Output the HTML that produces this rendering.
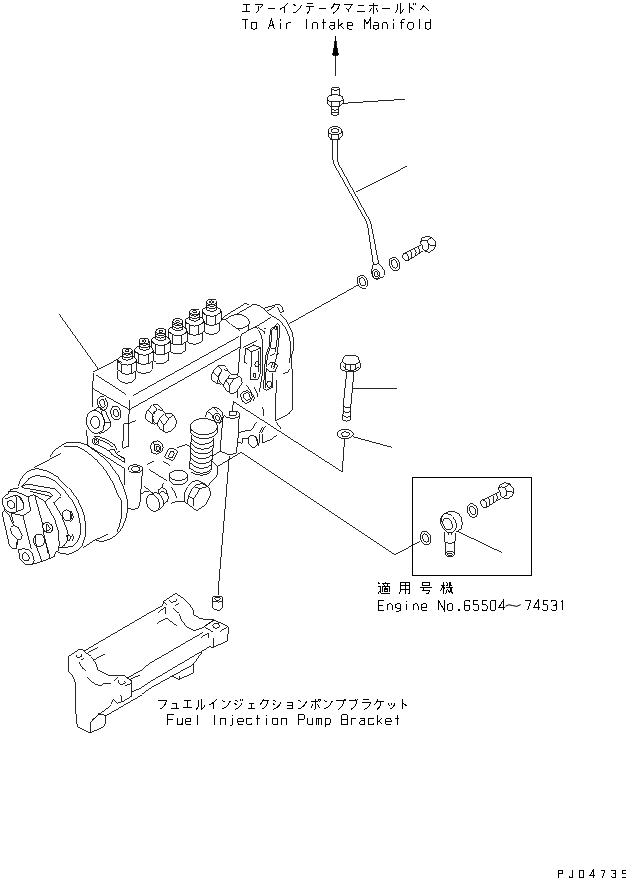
<!DOCTYPE html>
<html><head><meta charset="utf-8"><title>Fuel Injection Pump</title>
<style>
html,body{margin:0;padding:0;background:#fff;font-family:"Liberation Sans",sans-serif;}
svg{display:block}
svg path,svg ellipse,svg circle,svg line,svg polyline,svg rect{fill:none;stroke:#000;stroke-width:0.85;vector-effect:non-scaling-stroke;stroke-linecap:butt;stroke-linejoin:miter}
svg #txt path{stroke-width:1}
svg .b{stroke-width:1}
svg .f{fill:#000}
svg .w{fill:#fff}
</style></head><body>
<svg width="626" height="878" viewBox="0 0 626 878" shape-rendering="crispEdges">
<rect x="0" y="0" width="626" height="878" style="fill:#fff;stroke:none"/>
<g id="txt"><path transform="translate(241.90,3.20) scale(0.95,0.92)" d="M1,1.5H8M4.5,1.5V9.5M0,9.5H9"/>
<path transform="translate(254.65,3.20) scale(0.95,0.92)" d="M0,1H8.8Q8.3,3.5 5.8,5M4.3,3.2V6Q4.3,9 1,11"/>
<path transform="translate(267.40,3.20) scale(0.95,0.92)" d="M.3,5.5H8"/>
<path transform="translate(280.15,3.20) scale(0.95,0.92)" d="M8,0Q5,4.2 0,6.6M5,3.6V11"/>
<path transform="translate(292.90,3.20) scale(0.95,0.92)" d="M.5,1L3,3M.5,10.6Q6,9 9,2.2"/>
<path transform="translate(305.65,3.20) scale(0.95,0.92)" d="M1.5,.6H7.5M0,4H9M4.6,4Q4.6,9 1.5,11"/>
<path transform="translate(318.40,3.20) scale(0.95,0.92)" d="M.3,5.5H8"/>
<path transform="translate(331.15,3.20) scale(0.95,0.92)" d="M3.6,0Q2.6,3.6 0,6M3,1.6H8.6Q8,7.6 2,11"/>
<path transform="translate(343.90,3.20) scale(0.95,0.92)" d="M0,1H9Q7,5 4,7.6M2.4,5L5.6,9.6"/>
<path transform="translate(356.65,3.20) scale(0.95,0.92)" d="M1.5,2H7.5M0,9.5H9"/>
<path transform="translate(369.40,3.20) scale(0.95,0.92)" d="M0,3H9M4.5,0V10Q4.5,11 3.3,11M2,5.6L0,9.6M7,5.6L9,9.6"/>
<path transform="translate(382.15,3.20) scale(0.95,0.92)" d="M.3,5.5H8"/>
<path transform="translate(394.90,3.20) scale(0.95,0.92)" d="M2.5,.6V6Q2.5,9.6 0,11M5.6,0V11Q8,10 9.5,6"/>
<path transform="translate(407.65,3.20) scale(0.95,0.92)" d="M2,0V11M2,4L7,7M6.2,0V2M8.2,0V2"/>
<path transform="translate(420.40,3.20) scale(0.95,0.92)" d="M0,7L3.6,2.6L9.5,9"/>
<path transform="translate(242.30,19.00) scale(1.0,1.0)" d="M0,0H6M3,0V10"/>
<path transform="translate(251.00,19.00) scale(1.0,1.0)" d="M1.8,3.5H4.2Q5.7,3.5 5.7,5V8.5Q5.7,10 4.2,10H1.8Q.3,10 .3,8.5V5Q.3,3.5 1.8,3.5Z"/>
<path transform="translate(268.40,19.00) scale(1.0,1.0)" d="M0,10L3,0L6,10M1.1,6.5H4.9"/>
<path transform="translate(277.10,19.00) scale(1.0,1.0)" d="M3,3.5V10M3,.3V1.5"/>
<path transform="translate(285.80,19.00) scale(1.0,1.0)" d="M.8,3.5V10M.8,5.2Q2,3.5 3.8,3.5H5.5"/>
<path transform="translate(303.20,19.00) scale(1.0,1.0)" d="M3,0V10"/>
<path transform="translate(311.90,19.00) scale(1.0,1.0)" d="M.5,3.5V10M.5,5Q1.3,3.5 2.8,3.5H3.8Q5.5,3.5 5.5,5.2V10"/>
<path transform="translate(320.60,19.00) scale(1.0,1.0)" d="M3,0V10M1,3.5H5"/>
<path transform="translate(329.30,19.00) scale(1.0,1.0)" d="M1,3.5H4Q5.5,3.5 5.5,5V10M5.5,6.3H2Q.4,6.3 .4,8.1Q.4,10 2,10H3.8Q5.5,10 5.5,8.6"/>
<path transform="translate(338.00,19.00) scale(1.0,1.0)" d="M.6,0V10M5.4,3.5L.6,7.6M2.4,6.1L5.6,10"/>
<path transform="translate(346.70,19.00) scale(1.0,1.0)" d="M.4,6.6H5.6V5Q5.6,3.5 4.1,3.5H1.9Q.4,3.5 .4,5V8.5Q.4,10 1.9,10H5.4"/>
<path transform="translate(364.10,19.00) scale(1.0,1.0)" d="M0,10V0L3,5.2L6,0V10"/>
<path transform="translate(372.80,19.00) scale(1.0,1.0)" d="M1,3.5H4Q5.5,3.5 5.5,5V10M5.5,6.3H2Q.4,6.3 .4,8.1Q.4,10 2,10H3.8Q5.5,10 5.5,8.6"/>
<path transform="translate(381.50,19.00) scale(1.0,1.0)" d="M.5,3.5V10M.5,5Q1.3,3.5 2.8,3.5H3.8Q5.5,3.5 5.5,5.2V10"/>
<path transform="translate(390.20,19.00) scale(1.0,1.0)" d="M3,3.5V10M3,.3V1.5"/>
<path transform="translate(398.90,19.00) scale(1.0,1.0)" d="M3,10V1.5Q3,0 4.5,0H5.6M.8,3.5H5.4"/>
<path transform="translate(407.60,19.00) scale(1.0,1.0)" d="M1.8,3.5H4.2Q5.7,3.5 5.7,5V8.5Q5.7,10 4.2,10H1.8Q.3,10 .3,8.5V5Q.3,3.5 1.8,3.5Z"/>
<path transform="translate(416.30,19.00) scale(1.0,1.0)" d="M3,0V10"/>
<path transform="translate(425.00,19.00) scale(1.0,1.0)" d="M5.5,0V10M5.5,5Q5.5,3.5 4,3.5H2Q.4,3.5 .4,5V8.5Q.4,10 2,10H4Q5.5,10 5.5,8.5"/>
<path transform="translate(157.90,699.20) scale(0.95,0.92)" d="M0,1H9Q8.5,7.6 2,11"/>
<path transform="translate(170.65,699.20) scale(0.95,0.92)" d="M1.5,5H6.5V10M.5,10H8.5"/>
<path transform="translate(183.40,699.20) scale(0.95,0.92)" d="M1,1.5H8M4.5,1.5V9.5M0,9.5H9"/>
<path transform="translate(196.15,699.20) scale(0.95,0.92)" d="M2.5,.6V6Q2.5,9.6 0,11M5.6,0V11Q8,10 9.5,6"/>
<path transform="translate(208.90,699.20) scale(0.95,0.92)" d="M8,0Q5,4.2 0,6.6M5,3.6V11"/>
<path transform="translate(221.65,699.20) scale(0.95,0.92)" d="M.5,1L3,3M.5,10.6Q6,9 9,2.2"/>
<path transform="translate(234.40,699.20) scale(0.95,0.92)" d="M1,1L3.5,2.6M0,4.6L2.5,6.1M.5,11Q6,9.6 8.5,3.6M6.6,0V2M8.6,0V2"/>
<path transform="translate(247.15,699.20) scale(0.95,0.92)" d="M1.5,4.6H7.5M4.5,4.6V10M.5,10H8.5"/>
<path transform="translate(259.90,699.20) scale(0.95,0.92)" d="M3.6,0Q2.6,3.6 0,6M3,1.6H8.6Q8,7.6 2,11"/>
<path transform="translate(272.65,699.20) scale(0.95,0.92)" d="M1,1L3.5,2.6M0,4.6L2.5,6.1M.5,11Q6,9.6 9,3"/>
<path transform="translate(285.40,699.20) scale(0.95,0.92)" d="M1.5,4H7V10H1.5M2,7H7"/>
<path transform="translate(298.15,699.20) scale(0.95,0.92)" d="M.5,1L3,3M.5,10.6Q6,9 9,2.2"/>
<path transform="translate(310.90,699.20) scale(0.95,0.92)" d="M0,3H8M4.5,0V10Q4.5,11 3.3,11M2,5.6L0,9.6M7,5.6L9,9.6M8,1A1,1 0 1 0 10,1A1,1 0 1 0 8,1"/>
<path transform="translate(323.65,699.20) scale(0.95,0.92)" d="M.5,1L3,3M.5,10.6Q6,9 9,2.2"/>
<path transform="translate(336.40,699.20) scale(0.95,0.92)" d="M0,1.5H8Q7.6,7.6 2,11M8,1A1,1 0 1 0 10,1A1,1 0 1 0 8,1"/>
<path transform="translate(349.15,699.20) scale(0.95,0.92)" d="M0,1.5H8Q7.6,7.6 2,11M7,-.5V1M9,-.5V1"/>
<path transform="translate(361.90,699.20) scale(0.95,0.92)" d="M1.5,.6H7.5M0,3.6H9Q8.5,8.6 2.5,11"/>
<path transform="translate(374.65,699.20) scale(0.95,0.92)" d="M3,0Q2.5,3.6 0,6M2.5,3H9.5M6.5,3Q6.5,8.6 2.5,11"/>
<path transform="translate(387.40,699.20) scale(0.95,0.92)" d="M1,4.6L2,7M3.9,4L4.9,6.6M8,4Q7.5,8.6 2.5,10.6"/>
<path transform="translate(400.15,699.20) scale(0.95,0.92)" d="M2,0V11M2,4L7.5,7.6"/>
<path transform="translate(167.90,714.60) scale(1.0,1.0)" d="M6,0H0V10M0,4.8H4.6"/>
<path transform="translate(176.60,714.60) scale(1.0,1.0)" d="M.5,3.5V8.5Q.5,10 2,10H3.6Q5.5,10 5.5,8.4M5.5,3.5V10"/>
<path transform="translate(185.30,714.60) scale(1.0,1.0)" d="M.4,6.6H5.6V5Q5.6,3.5 4.1,3.5H1.9Q.4,3.5 .4,5V8.5Q.4,10 1.9,10H5.4"/>
<path transform="translate(194.00,714.60) scale(1.0,1.0)" d="M3,0V10"/>
<path transform="translate(211.40,714.60) scale(1.0,1.0)" d="M3,0V10"/>
<path transform="translate(220.10,714.60) scale(1.0,1.0)" d="M.5,3.5V10M.5,5Q1.3,3.5 2.8,3.5H3.8Q5.5,3.5 5.5,5.2V10"/>
<path transform="translate(228.80,714.60) scale(1.0,1.0)" d="M3.6,3.5V9.2Q3.6,10.6 2.2,10.6H1M3.6,.3V1.5"/>
<path transform="translate(237.50,714.60) scale(1.0,1.0)" d="M.4,6.6H5.6V5Q5.6,3.5 4.1,3.5H1.9Q.4,3.5 .4,5V8.5Q.4,10 1.9,10H5.4"/>
<path transform="translate(246.20,714.60) scale(1.0,1.0)" d="M5.5,4.7Q5.5,3.5 4,3.5H2Q.4,3.5 .4,5V8.5Q.4,10 2,10H4Q5.5,10 5.5,8.9"/>
<path transform="translate(254.90,714.60) scale(1.0,1.0)" d="M3,0V10M1,3.5H5"/>
<path transform="translate(263.60,714.60) scale(1.0,1.0)" d="M3,3.5V10M3,.3V1.5"/>
<path transform="translate(272.30,714.60) scale(1.0,1.0)" d="M1.8,3.5H4.2Q5.7,3.5 5.7,5V8.5Q5.7,10 4.2,10H1.8Q.3,10 .3,8.5V5Q.3,3.5 1.8,3.5Z"/>
<path transform="translate(281.00,714.60) scale(1.0,1.0)" d="M.5,3.5V10M.5,5Q1.3,3.5 2.8,3.5H3.8Q5.5,3.5 5.5,5.2V10"/>
<path transform="translate(298.40,714.60) scale(1.0,1.0)" d="M0,10V0H4Q6,0 6,1.6V3.4Q6,5 4,5H0"/>
<path transform="translate(307.10,714.60) scale(1.0,1.0)" d="M.5,3.5V8.5Q.5,10 2,10H3.6Q5.5,10 5.5,8.4M5.5,3.5V10"/>
<path transform="translate(315.80,714.60) scale(1.0,1.0)" d="M.3,3.5V10M.3,4.6Q.9,3.5 1.8,3.5Q3,3.5 3,5V10M3,4.6Q3.6,3.5 4.5,3.5Q5.7,3.5 5.7,5V10"/>
<path transform="translate(324.50,714.60) scale(1.0,1.0)" d="M.5,3.5V12M.5,5Q.5,3.5 2,3.5H4Q5.6,3.5 5.6,5V8.5Q5.6,10 4,10H2Q.5,10 .5,8.5"/>
<path transform="translate(341.90,714.60) scale(1.0,1.0)" d="M0,0V10H4Q6,10 6,8.4V6.4Q6,4.8 4,4.8H0M4,4.8Q5.6,4.8 5.6,3.3V1.5Q5.6,0 4,0H0"/>
<path transform="translate(350.60,714.60) scale(1.0,1.0)" d="M.8,3.5V10M.8,5.2Q2,3.5 3.8,3.5H5.5"/>
<path transform="translate(359.30,714.60) scale(1.0,1.0)" d="M1,3.5H4Q5.5,3.5 5.5,5V10M5.5,6.3H2Q.4,6.3 .4,8.1Q.4,10 2,10H3.8Q5.5,10 5.5,8.6"/>
<path transform="translate(368.00,714.60) scale(1.0,1.0)" d="M5.5,4.7Q5.5,3.5 4,3.5H2Q.4,3.5 .4,5V8.5Q.4,10 2,10H4Q5.5,10 5.5,8.9"/>
<path transform="translate(376.70,714.60) scale(1.0,1.0)" d="M.6,0V10M5.4,3.5L.6,7.6M2.4,6.1L5.6,10"/>
<path transform="translate(385.40,714.60) scale(1.0,1.0)" d="M.4,6.6H5.6V5Q5.6,3.5 4.1,3.5H1.9Q.4,3.5 .4,5V8.5Q.4,10 1.9,10H5.4"/>
<path transform="translate(394.10,714.60) scale(1.0,1.0)" d="M3,0V10M1,3.5H5"/>
<path transform="translate(378.00,581.60) scale(1.0,1.0)" d="M0,1L2,2.6M0,5H2V9.6Q1,10 0,12M2,10Q3,12 5,12H12M7.6,0V1.6M3.5,1.6H12M5.5,2.6L6.5,4M10,2.6L9,4M4,4.6H11.5V10.2M4,4.6V10.2M7.7,4.6V7M5.5,7H10M6,8.2H9.5V10H6Z"/><path transform="translate(399.00,581.60) scale(1.0,1.0)" d="M1.6,.5H10.5V11Q10.5,12 9,12M1.6,.5V8Q1.6,10.6 0,12M1.6,4H10.5M1.6,7.6H10.5M6,.5V12"/><path transform="translate(419.80,581.60) scale(1.0,1.0)" d="M2.5,.5H9.5V4H2.5ZM0,6H12M4,6L3,8.6H9.5Q9.5,11.6 8,12H6"/><path transform="translate(440.70,581.60) scale(1.0,1.0)" d="M0,3.5H4.5M2.3,0V12M2.3,4L0,9M2.3,4L4.5,7M5.5,.6L7,2.4L5.5,4H7.5M9,.6L10.5,2.4L9,4H11.2M5,6H12M8.6,0Q9,8 12,12M11.2,7L8,12M6.5,7.6L5,12M7,8L8,10"/>
<path transform="translate(378.00,600.40) scale(1.0,1.0)" d="M6,0H0V10H6M0,4.8H4.6"/>
<path transform="translate(386.63,600.40) scale(1.0,1.0)" d="M.5,3.5V10M.5,5Q1.3,3.5 2.8,3.5H3.8Q5.5,3.5 5.5,5.2V10"/>
<path transform="translate(395.26,600.40) scale(1.0,1.0)" d="M5.5,3.5V9.3Q5.5,10.6 4,10.6H1.2M5.5,5Q5.5,3.5 4,3.5H2Q.4,3.5 .4,5V6.2Q.4,7.7 2,7.7H4Q5.5,7.7 5.5,6.2"/>
<path transform="translate(403.89,600.40) scale(1.0,1.0)" d="M3,3.5V10M3,.3V1.5"/>
<path transform="translate(412.52,600.40) scale(1.0,1.0)" d="M.5,3.5V10M.5,5Q1.3,3.5 2.8,3.5H3.8Q5.5,3.5 5.5,5.2V10"/>
<path transform="translate(421.15,600.40) scale(1.0,1.0)" d="M.4,6.6H5.6V5Q5.6,3.5 4.1,3.5H1.9Q.4,3.5 .4,5V8.5Q.4,10 1.9,10H5.4"/>
<path transform="translate(438.41,600.40) scale(1.0,1.0)" d="M0,10V0L6,10V0"/>
<path transform="translate(447.04,600.40) scale(1.0,1.0)" d="M1.8,3.5H4.2Q5.7,3.5 5.7,5V8.5Q5.7,10 4.2,10H1.8Q.3,10 .3,8.5V5Q.3,3.5 1.8,3.5Z"/>
<path transform="translate(455.67,600.40) scale(1.0,1.0)" d="M2.6,9.2H3.6V10H2.6Z"/>
<path transform="translate(464.30,600.40) scale(1.0,1.0)" d="M5.5,1.2Q5.2,0 3.8,0H2Q.4,0 .4,1.8V8.3Q.4,10 2,10H4Q5.6,10 5.6,8.3V6.4Q5.6,4.8 4,4.8H2Q.4,4.8 .4,6.4"/>
<path transform="translate(472.93,600.40) scale(1.0,1.0)" d="M5.4,0H.8V4.4H4Q5.6,4.4 5.6,6V8.3Q5.6,10 4,10H2Q.4,10 .4,8.6"/>
<path transform="translate(481.56,600.40) scale(1.0,1.0)" d="M5.4,0H.8V4.4H4Q5.6,4.4 5.6,6V8.3Q5.6,10 4,10H2Q.4,10 .4,8.6"/>
<path transform="translate(490.19,600.40) scale(1.0,1.0)" d="M2,0H4Q5.6,0 5.6,1.8V8.2Q5.6,10 4,10H2Q.4,10 .4,8.2V1.8Q.4,0 2,0Z"/>
<path transform="translate(498.82,600.40) scale(1.0,1.0)" d="M4.4,10V0L0,7H6"/>
<path transform="translate(505.50,600.40) scale(1.45,1.0)" d="M0,5.8Q2.2,3.2 5,5.2T10.5,4.2"/>
<path transform="translate(525.00,600.40) scale(1.0,1.0)" d="M.3,0H5.7L2.6,10"/>
<path transform="translate(533.63,600.40) scale(1.0,1.0)" d="M4.4,10V0L0,7H6"/>
<path transform="translate(542.26,600.40) scale(1.0,1.0)" d="M5.4,0H.8V4.4H4Q5.6,4.4 5.6,6V8.3Q5.6,10 4,10H2Q.4,10 .4,8.6"/>
<path transform="translate(550.89,600.40) scale(1.0,1.0)" d="M.4,1.5Q.4,0 2,0H4Q5.6,0 5.6,1.5V3.2Q5.6,4.7 4,4.7H2.4M4,4.7Q5.6,4.7 5.6,6.2V8.4Q5.6,10 4,10H2Q.4,10 .4,8.5"/>
<path transform="translate(559.52,600.40) scale(1.0,1.0)" d="M3,0V10M1.6,1.6L3,0"/>
<path transform="translate(558.10,870.00) scale(0.75,0.76)" d="M0,10V0H4Q6,0 6,1.6V3.4Q6,5 4,5H0"/>
<path transform="translate(568.75,870.00) scale(0.75,0.76)" d="M5,0V8.2Q5,10 3.2,10H2.2Q.5,10 .5,8.4"/>
<path transform="translate(579.40,870.00) scale(0.75,0.76)" d="M0,0V10H3.4Q6,10 6,7.4V2.6Q6,0 3.4,0H0Z"/>
<path transform="translate(590.05,870.00) scale(0.75,0.76)" d="M4.4,10V0L0,7H6"/>
<path transform="translate(600.70,870.00) scale(0.75,0.76)" d="M.3,0H5.7L2.6,10"/>
<path transform="translate(611.35,870.00) scale(0.75,0.76)" d="M.4,1.5Q.4,0 2,0H4Q5.6,0 5.6,1.5V3.2Q5.6,4.7 4,4.7H2.4M4,4.7Q5.6,4.7 5.6,6.2V8.4Q5.6,10 4,10H2Q.4,10 .4,8.5"/>
<path transform="translate(622.00,870.00) scale(0.75,0.76)" d="M5.4,0H.8V4.4H4Q5.6,4.4 5.6,6V8.3Q5.6,10 4,10H2Q.4,10 .4,8.6"/></g>
<g id="top">
<!-- arrow -->
<path class="f" d="M335.5,36L334.6,45L332.6,55H338.4L336.4,45Z"/>
<path d="M335.5,38V76"/>
<!-- connector fitting -->
<ellipse cx="335.4" cy="88.6" rx="3.7" ry="1.6"/>
<path d="M331.7,88.6V96M339.1,88.6V96M334.5,90.5L336.5,89.5"/>
<path d="M327.3,98.5Q327.3,94.8 335.2,94.8Q343,94.8 343,98.5Q343,102 335.2,102Q327.3,102 327.3,98.5Z"/>
<path d="M327.3,98.5V103.5Q330,107 335,107Q340.5,107 343,103.5V98.5M331.2,101.6V106.4M339.6,101.6V106.2"/>
<path d="M331.7,106.5V114.5Q335,117 338.4,114.5V106.5M331.7,109.3Q335,111.5 338.4,109.3M331.7,112Q335,114.2 338.4,112"/>
<path d="M343,103.3L404.8,99.3"/>
<!-- nut on tube -->
<path d="M328.2,131Q328.2,127 335,126.6Q342,127 342,131Q342,134.5 335,134.8Q328.2,134.5 328.2,131Z"/>
<ellipse cx="335" cy="130.6" rx="3.8" ry="2"/>
<path d="M328.2,131V136L331,139.6H339L342,136V131M331.4,134V139.4M338.6,134V139.4"/>
<path d="M332.6,139.6V143M337.3,139.6V143"/>
<!-- tube -->
<path d="M332.6,143V158Q332.8,162 335,166L366.3,221.5Q367.3,224 367.8,227L373.3,263.9"/>
<path d="M337,143V157Q337.2,160.8 338.8,164.4L369.4,220Q370.8,222.5 371.4,226L378.8,263.9"/>
<path d="M355.6,192.3L406.8,166.3"/>
<!-- banjo eye -->
<path d="M373.3,263.9L371.3,271.4L372.7,276.8L376.7,279.5L381.5,277.5L384.2,275.4L384.6,271.4L382.2,267.3L378.8,263.9M373.4,264.4L378.6,263.8"/>
<ellipse cx="376" cy="274.1" rx="3.7" ry="4.8" transform="rotate(-20 376 274.1)"/>
<ellipse cx="376" cy="274.3" rx="1.9" ry="2.7" transform="rotate(-20 376 274.3)"/>
<!-- washer 1 -->
<ellipse cx="362.5" cy="281.9" rx="4.9" ry="7" transform="rotate(-20 362.5 281.9)"/>
<ellipse cx="362.5" cy="281.9" rx="2.7" ry="4.4" transform="rotate(-20 362.5 281.9)"/>
<path d="M358,285L289,323.8"/>
<!-- washer 2 -->
<ellipse cx="394.6" cy="263.9" rx="5" ry="7.2" transform="rotate(-20 394.6 263.9)"/>
<ellipse cx="394.6" cy="263.9" rx="2.8" ry="4.5" transform="rotate(-20 394.6 263.9)"/>
<!-- bolt -->
<ellipse cx="405.9" cy="257.1" rx="2.6" ry="4.1" transform="rotate(-25 405.9 257.1)"/>
<path d="M404.6,253.2L420.9,244.9M407.6,260.8L422.9,251"/>
<path d="M410.6,251Q412.8,254 411.4,258.4M414.8,249Q417,252 415.6,256M418.2,247Q420.4,250 419,253.6"/>
<path d="M420.2,242.2L422.2,238.1L427,236.1L431.7,237.4L435.1,241.5L435.8,245.6L433.8,249.7L429,252.4L424.9,251L422.9,249"/>
<path d="M420.2,242.2L422.9,240.2L427,240.8L429,244.9L428.3,249L424.9,251M427,240.8L431.7,237.4M429,244.9L435.8,245.6"/>
<path d="M420.2,242.2Q422.4,244.6 422.9,249"/>
</g>

<g id="right">
<!-- long flange bolt -->
<path d="M342.8,361.6V359.8Q343.4,356.4 346.2,355.3H355.3Q358.6,356.6 359.3,360.4V362"/>
<path d="M342.8,361.6Q344,364.6 350.8,365Q357.6,364.6 359.3,362"/>
<path d="M345.6,364V369.6M350.8,365V370.4M355.9,364V369.6M343.4,366.8Q346,370.6 350.8,370.6Q356,370.6 358.6,367"/>
<path d="M342.6,360.8Q340.3,362.6 340.3,366.4Q340.3,371.8 350.4,371.8Q360.4,371.8 360.4,366.4Q360.4,363 359.4,361.4"/>
<path d="M346.8,371.8L343.3,404.2L342.8,420.2Q346.6,422.6 350.5,419.8L350.8,406.5L353.9,371.8"/>
<path d="M343.3,405Q346.6,409.6 350.8,406.6M343,411Q346.6,414.2 350.7,411.6M342.9,415.6Q346.6,418.8 350.6,416.2"/>
<path d="M352.6,388.8L396.8,388.3"/>
<!-- washer -->
<ellipse cx="345.2" cy="434" rx="8" ry="4.8"/>
<ellipse cx="345.4" cy="434.2" rx="4" ry="2.4"/>
<path d="M353.2,436.8L391.6,447.3"/>
<path d="M344.6,439L342.2,471.8L233.3,401.5"/>
<!-- line 2 -->
<path d="M217.4,466.5L241.2,452.3L395,554.8L420.4,541"/>
<!-- left leader to pump -->
<path d="M59,314L97.9,368.5"/>
<!-- vertical leader to plug -->
<path d="M229.4,455.8L218.6,585.5L217.9,595"/>
<!-- leader from governor -->

<!-- box -->
<path class="b" d="M412.5,477.5H531.5V575.5H412.5Z"/>
<!-- washer A -->
<ellipse cx="425.6" cy="538" rx="5.2" ry="7" transform="rotate(-18 425.6 538)"/>
<ellipse cx="425.6" cy="538" rx="2.8" ry="4.4" transform="rotate(-18 425.6 538)"/>
<!-- banjo -->
<path d="M441,522Q441,515 447,512.2Q450.5,510.8 454,511.6Q459.5,513 461.6,518.5Q463.4,524 461.2,528.6L456.4,532"/>
<ellipse cx="448.4" cy="523.2" rx="7.2" ry="10.2" transform="rotate(-28 448.4 523.2)"/>
<ellipse cx="447.6" cy="524" rx="4.3" ry="6.4" transform="rotate(-28 447.6 524)"/>
<path d="M444,531.5V540L445.6,542.4V554M455.6,532.5V540L454.6,542.4V554M445.6,542.4Q450,544.6 454.6,542.4"/>
<ellipse cx="450" cy="554" rx="4.5" ry="2.4"/>
<ellipse cx="450" cy="554.4" rx="2.6" ry="1.3"/>
<path d="M448,532.5V535M451.5,532.5V535"/>
<path d="M456.8,531L502,552.6"/>
<!-- washer B -->
<ellipse cx="472.6" cy="510.6" rx="5" ry="7" transform="rotate(-20 472.6 510.6)"/>
<ellipse cx="472.6" cy="510.6" rx="2.7" ry="4.4" transform="rotate(-20 472.6 510.6)"/>
<!-- bolt B -->
<g transform="translate(77.9,246.6)">
<ellipse cx="405.9" cy="257.1" rx="2.6" ry="4.1" transform="rotate(-25 405.9 257.1)"/>
<path d="M404.6,253.2L420.9,244.9M407.6,260.8L422.9,251"/>
<path d="M410.6,251Q412.8,254 411.4,258.4M414.8,249Q417,252 415.6,256M418.2,247Q420.4,250 419,253.6"/>
<path d="M420.2,242.2L422.2,238.1L427,236.1L431.7,237.4L435.1,241.5L435.8,245.6L433.8,249.7L429,252.4L424.9,251L422.9,249"/>
<path d="M420.2,242.2L422.9,240.2L427,240.8L429,244.9L428.3,249L424.9,251M427,240.8L431.7,237.4M429,244.9L435.8,245.6"/>
<path d="M420.2,242.2Q422.4,244.6 422.9,249"/>
</g>
</g>

<g id="body">
<!-- top face -->
<path d="M93.2,372L118,359.2"/>
<path d="M96.3,374.9L125.5,394.3"/>
<path d="M133,395.6L238.5,336.8"/>
<path d="M129.6,409.6L239.8,347.2"/>
<!-- left face -->
<path d="M93.6,372.5L92.2,390L92,407"/>
<path d="M92.8,388.6L129,409.4"/>
<path d="M129.4,399.5L128.7,424V446.2L122.6,448.4L124,423.8L129.4,423.4L135.6,420.6"/>
<!-- ports -->
<ellipse cx="102.4" cy="403.3" rx="4.8" ry="7" transform="rotate(-15 102.4 403.3)"/>
<ellipse cx="102.4" cy="403.4" rx="2.6" ry="4" transform="rotate(-15 102.4 403.4)"/>
<ellipse cx="115.8" cy="412.9" rx="5" ry="7" transform="rotate(-15 115.8 412.9)"/>
<ellipse cx="115.8" cy="413" rx="2.7" ry="4" transform="rotate(-15 115.8 413)"/>
<!-- big nut on left -->
<ellipse cx="95.4" cy="421.8" rx="9" ry="11.6" transform="rotate(-12 95.4 421.8)"/>
<ellipse cx="95.3" cy="422.4" rx="4.5" ry="6.2" transform="rotate(-12 95.3 422.4)"/>
<path d="M92.8,410.6L99.2,407L105.6,411.6L110.7,422.5L110,427L104.3,432L99.2,433.4"/>
<path d="M101,411L104.8,421.8L103.6,427M104.8,422.2L110.7,422.5"/>

<!-- lever -->
<ellipse cx="95.6" cy="441.2" rx="3.3" ry="3.5"/>
<ellipse cx="95.6" cy="441.3" rx="1.6" ry="1.8"/>
<path d="M94,436.7H99L107,440L114.7,445L117,449.5"/>
<path d="M98.9,439.5L107,442.8L113,447.3"/>
<path d="M97.4,444.5L108.6,450.7"/>
<path d="M108.6,450.7L112,449L114.7,450L116.4,453.5L124.8,459.6V462.4L114.7,456.3L112,454.6Z"/>
<path d="M117,452.8L120.3,450.7M118,455.2L125.4,458.6"/>
<path d="M86.8,430L87.3,445"/>
</g>

<g id="front">
<!-- hex plug (left on front face) -->
<path d="M145.1,415.6L147.5,410.3L152.7,404.6L156.6,404.1L162.8,409.4"/>
<path d="M145.1,415.6L146,419.4L151.3,423.3L155.1,424.2"/>
<path d="M147.5,410.3L153.2,415.6L152.2,423M152.7,404.6L157,409.4L153.7,414.2"/>
<path d="M154.2,411.3Q152,414 152.7,417Q153,421 154.7,423.3L158,423.8"/>
<path d="M158,409.4L162.8,410.8L165.2,412.7"/>
<path d="M157,423.8L159.4,419L164.7,413.7L169.5,413.2L174.8,417L176.7,421.8L174.8,427.1L170.5,431.4L165.7,432.4L159.9,429Z"/>
<path d="M159.4,419L163.8,425.2V431.4M163.8,425.2L168.1,418.5L164.7,413.7M168.1,418.5L173,415.6"/>
<!-- small nut -->
<path d="M150,446L152.8,442L157.4,440.8L161.8,443.2L163.2,447.6L161.4,452L156.8,454.3L152,452.6Z"/>
<ellipse cx="157.6" cy="448" rx="3.2" ry="4" transform="rotate(-20 157.6 448)"/>
<ellipse cx="158" cy="448.2" rx="1.6" ry="2.2" transform="rotate(-20 158 448.2)"/>
<path d="M152.8,442L155,445.6L154.4,450.6"/>
<!-- small rounded rect with ellipse -->
<path d="M165,455.6L168.2,449.4Q169.4,447.6 171.4,448L176.4,450Q177.8,451 177,452.8L174.2,459Q173.2,460.6 171.2,460L166,458Q164.4,457.2 165,455.6Z"/>
<ellipse cx="171.4" cy="454.6" rx="2.4" ry="3.6" transform="rotate(25 171.4 454.6)"/>
<path d="M176.7,448L185.5,444.7L191,448"/>
<!-- short lines -->
<path d="M147.2,464.7L154.4,460.7M163.2,461.5L170.4,465.5M148.8,469.5L166.6,480.4"/>
<!-- spring cap -->
<ellipse class="w" cx="203.8" cy="426.6" rx="13.7" ry="8.1"/>
<path d="M190.1,426.8V431.6Q193,437.8 203.8,438.8Q214.6,438 217.5,432V426.8"/>
<path d="M191.4,434.6L189.6,468.6M213.8,437.6L211.2,470.4"/>
<path d="M191.2,438.4Q196,444.6 203,444.4Q210,444 213.4,440M190.9,443.2Q196,449.4 203,449.2Q210,448.8 213.2,444.8M190.6,448Q196,454.2 203,454Q210,453.6 212.8,449.6M190.4,452.8Q196,459 203,458.8Q209.6,458.4 212.4,454.4M190.1,457.6Q195.6,463.8 202.6,463.6Q209.4,463.2 212.1,459.2M189.8,462.4Q195.4,468.6 202.4,468.4Q209,468 211.8,464M189.6,467.2Q195,473.4 202,473.2Q208.8,472.8 211.4,468.8M190.6,471.6Q195,475.6 201.4,475.4Q207.4,475 210.6,471.6"/>
<!-- round plug below -->
<ellipse cx="178.4" cy="475.4" rx="9.2" ry="5"/>
<path d="M169.2,475.4V480.2Q172,485 178.4,485Q185,485 187.6,480.2V475.4"/>
<!-- nut top-right of spring -->
<path d="M205.2,416.8L207.4,411.2L213.6,407.3L218.6,408.4L222,412.3L223.1,416.8L222.5,421.3L218.6,424"/>
<ellipse cx="217.4" cy="417.8" rx="3.8" ry="4.9" transform="rotate(-15 217.4 417.8)"/>
<ellipse cx="217.6" cy="418" rx="1.9" ry="2.7" transform="rotate(-15 217.6 418)"/>
<path d="M207.4,411.2L212.4,415.1L213.2,418.6M213.6,407.3L217.4,411.6"/>
<path d="M223.1,415.7L220.3,448.1L220.8,451.3"/>
<!-- pin boss right -->
<path d="M229.2,411.4H236.2V415.2H229.2Z"/>
<path d="M233.3,401.5L232,411"/>
<path d="M237.4,411.6L239.2,412.8L238.6,432.5L237.4,442L236.6,452.6"/>
<path d="M211.9,455.9L220.8,451.3L229.4,454.9L236.4,453M212.3,460.9L217.4,466.5"/>
<path d="M217.5,466.3V474.8L207.9,485.8"/>
<!-- boss cylinder lower-left -->
<ellipse cx="135.4" cy="468.9" rx="7.2" ry="4.1"/>
<ellipse cx="135.6" cy="469" rx="4.3" ry="2.3"/>
<path d="M142.6,468.5L141.6,480L140.7,494.3L139.7,504.9L137.8,508.2L133,509.7L127.7,508.2"/>

<!-- bolt lower-left -->
<ellipse cx="153" cy="502.9" rx="6.2" ry="8.8" transform="rotate(-22 153 502.9)"/>
<path d="M150.6,494.6L155.8,492.4Q160.6,494 163,500L163.4,506L158.6,510.4"/>
<path d="M158.4,490L162.3,487.1L166.6,490.5L168.5,497.2L167.5,501L162.7,504.4"/>
<path d="M158.4,490L159,493.4L162.4,491.4L166.6,493.6M163.2,483.3L162.3,487.1"/>
<path d="M144,486.2L153.1,493.4M140.7,494.3L145.5,491.4L149.3,491"/>
<path d="M170.9,503.2L178.7,501L184.3,502.1M170.9,487Q175.3,491 176.5,497.6"/>
<!-- big bolt head -->
<path d="M184.4,501.6V493L187.7,486.8L193,481.5L197.3,480.5L203.1,482.9L208.4,486.8L210.7,492.5L209.3,497.8L206,504L203.1,506.4L196.8,510.7L192,507.4L187.3,503.6Z"/>
<path d="M187.3,503.1L188.7,495.9L192,488.7L195.4,485.3L201.6,483.4L206.9,485.8"/>
<path d="M194.9,486.8L200.2,488.7L207.9,486.3M200.2,488.7L193.5,498.8L189.2,496.8M193.5,498.8V505.5"/>
</g>

<g id="gov">
<!-- governor housing top outline -->
<path d="M220.6,319.3L230.9,312.3L245.6,303.3L248.8,304.6"/>
<path d="M236.6,314.2L253.2,304.6L258.3,305.2L264,309L271,315.4L276.2,318L280,321L284,325.7L287,331L289,336L291,346L290.3,355L289.6,362.7"/>
<path d="M264,308.4L276.2,304.6H280L282.6,307.8L283.3,311.6L280.7,312.9L277.5,307M267.2,311L275,306.5"/>
<path d="M280.7,313.5L284.5,318L287.7,322.5L290.4,327.5L292.2,332L294,342.3L293.5,350L291.6,355V366.6L292.8,372.8V408.6L289,413.7L282.6,417.5L275.6,420.4"/>
<!-- fill cap -->
<path d="M225.8,319.3Q230,315.6 236.6,314.2Q243.4,314 247.5,318.6Q249.6,321 249.4,323.6Q248,326.6 242.4,328.2H236.6Q230.4,325 225.8,319.3Z"/>
<path d="M236.6,328.2L240.4,331.4M248.8,324.6V330M220.6,319.3H225.8"/>
<!-- front-face top edge -->
<path d="M241,334.6L254.5,327L271,316.7"/>
<path d="M254.5,326.3Q258.6,329.6 259.8,332.6Q261.8,336.4 262.4,340.5L262.8,348.7L262.2,375L259.3,392"/>
<path d="M258.3,327.6L264,331.4L264.8,333.6M264,329L266,328.2"/>
<!-- left vertical edge -->
<path d="M241.1,334.6L239.2,360L237.9,374.6M237.7,390.5L237,398"/>
<!-- box bracket -->
<path d="M243,347.4L257,340.4M245.6,348L251.4,351.8L260.9,348L252.6,344.4"/>
<path d="M245.6,348L244.3,362.7L246.8,363.3M251.4,351.8L250.7,379.8L258.3,379L260.3,372.8L260.9,348M258.4,351.4L258.2,372"/>
<ellipse cx="257" cy="364.3" rx="2.2" ry="2.8"/>
<ellipse cx="254.5" cy="375.3" rx="1.4" ry="1.8"/>
<!-- long lever -->
<path d="M270.5,328.9L276.9,323L279.4,325L279.4,334.6L276.9,356.3L273.7,366.6"/>
<path d="M270.5,328.9L269.2,346L266,355L264.7,366.6L263.5,389.4L266,390.7L272.4,387.5L273,372.8"/>
<path d="M271.8,330.2L276.2,325.8L278,327L277.6,335.6L275.4,352M266.2,367.6L265.4,388.4"/>
<ellipse cx="275.6" cy="328.2" rx="1.3" ry="1.6"/>
<path d="M271.8,330.2L270.7,346.4L267.5,355.4L266.2,366.6"/>
<path d="M244.8,349.4L254.2,345"/>
<path d="M270.5,348.8L276.2,347.4M269.8,355.8L275,353.8M276.2,354.4L279.4,353.5"/>
<ellipse cx="269.3" cy="384.3" rx="2.6" ry="3.2"/>
<!-- knob -->
<path d="M267.9,365.2L270.2,362.4L275,362.6L277.5,365.8L275,371.5L269.2,371.5L267.2,369"/>
<path d="M272.8,363.4L270.8,368.4M275.4,364.4L273.4,369.4"/>
<!-- right lower -->
<path d="M282.6,374L287.7,372L289.6,369"/>
<path d="M276.2,379.8L275.6,421.3"/>
<!-- plug hex on front (right) -->
<path d="M211,377L212.9,371.8L217.7,366L222.5,365L226.4,367.5L229.2,371.3"/>
<path d="M211,377L212,380.4L216.8,383.3L220.6,384.2"/>
<path d="M212.9,371.8L218.2,377.5L217.2,383M217.7,366L222,370.3L219.2,375.6"/>
<path d="M220.6,371.8Q218.4,374.4 218.7,377Q218.8,380.4 219.7,382.3L223.5,384.7"/>
<path d="M223.5,369.8L228.8,371.8L230.7,373.7"/>
<path d="M223,385.7L225.9,380L230.7,374.6H236.4L241.2,378L242.2,382.8L238.8,388L236.4,391.9L231.6,393.8L226.8,391Z"/>
<path d="M225.9,380L229.7,385.7V392M229.7,385.7L233.6,379L227.8,378M233.6,379L238.4,376.6"/>
<!-- nut w/ ellipse -->
<path d="M240.3,395.3L243.1,391.9L247,390.5L250.8,392.9L252.3,397.2L250.8,401L246,403.4L242.2,401Z"/>
<path d="M243.1,394.3L247,392.4L249.8,395.3L250.3,399.1L247,400.5L244.1,398.1Z"/>
<path d="M246,385.2L250.8,390.5L254.7,397.2L253.7,400.5M254.2,387.1L257.5,394.3L258,397.2"/>
<path d="M262.8,406.6L263.5,415.6"/>
<!-- lines from pin -->

<!-- bottom region -->
<path d="M238.6,432.5L249.5,430Q254,427 256.5,422.3"/>
<path d="M223.6,415.4Q230,420.4 238.7,416.8"/>
<ellipse cx="252.7" cy="441.4" rx="4.4" ry="6.4" transform="rotate(-20 252.7 441.4)"/>
<path d="M255.6,436Q258.6,439 258.2,445.6"/>
<path d="M242.4,438.9L248.2,438.3M242.4,438.9V443.4M238,442L242.4,443.4"/>
<path d="M259,434.4V442.7M262.3,434.4V442.7M261.6,443.3L271.2,439.5L277,435"/>
<path d="M259.7,432.5L263,426.7M261,433.2L265.4,426.2M276.3,422.3L280.8,428.6"/>
</g>

<g id="timer">
<!-- back flange arcs -->
<path d="M63,444.2Q67,442.4 71,442.2L79,442.3L86.8,445L98,452.9L108,461.8L118,475.3L123.7,487.6L127.4,500L127.6,508L126.6,516L122.7,527.2L116.3,535.1L109.9,539.1L101.9,541.5L95.5,540.7"/>
<path d="M64,446.2L77.8,446.7L86.8,451.8L96.8,460.2L105.8,470.8L113.6,484.2L118,495.4L121,500L122,508L121.9,514.4L119.5,525.6L117,532"/>
<!-- step & top silhouette -->
<path d="M63.5,444.2L54.3,450.4L50,456.6M60.6,453.6L49.4,459.6L34,467.8"/>
<!-- bottom silhouette -->
<path d="M107.5,534.3L93.9,540.7L82.7,547.9"/>
<!-- front ring outer -->
<path d="M18.5,486.2L20.1,480.6L23.4,475.6L27,472.2L32,469.6L37.6,468.6L48,471.3L58.7,477.5L69.2,488L77.9,500L83.5,512.8L85.9,525.6L85.1,536.7L81.9,546.3L76.3,551.1L68.3,554.3L61.2,553.5L56.4,551.1"/>
<!-- front ring inner -->
<path d="M21.8,486.7L26.8,481.7L29,478.4L33,476.4L38,475.6L47,477.2L56,481.7L65.7,491.5L72.3,500L77.9,512.8L80.3,524V533.5L77.1,541.5L71.5,546.3L64.3,547.9L58.8,547.1"/>
<!-- slot -->
<path d="M21.8,486.7L26.8,484L55.4,489L61,495.7L53.5,502.4"/>
<path d="M22.4,487.8L49.2,492.3L52.6,495.7L44.7,501.8"/>
<path d="M29.6,491.2L50.6,496.4M33.6,494.6L44.7,501.2"/>
<!-- middle arc & hub arc -->
<path d="M44.7,501.8L49.2,509.7L54.8,519.7L58.2,531L59.3,545L58,551"/>
<path d="M53.5,502.4L57,508L62.6,517.5L66.3,527L68,533.5L67.6,540.3L64.6,545L59.6,548.4"/>
<!-- top-left boss -->
<path d="M2.2,498.5L6.7,494.6L10,489.5L18.5,487.9"/>
<path d="M7.8,491.8H16.8L28,496.8L33.6,494.6"/>
<path d="M2.2,498.5V503L5,509.7L2.2,512.5"/>
<path d="M5,499L15.7,495.1L20.6,497.4L24,504L22.9,509L16.2,512L11.2,513L5,509.7"/>
<path d="M7.3,501.8L10.6,500.2L14,503L14.5,507.4L11.2,509L7.8,506.3Z"/>
<path d="M15.7,495.1L16.8,500.7L16.2,512M18.5,495.8L24,504"/>
<path d="M28,496.8L30.8,510.8L22.9,515.8L11.2,513"/>
<path d="M22.9,515.8L29.6,542L31.2,548.6"/>
<path d="M34.7,495L42.5,524L43.6,533L48,552.6"/>
<!-- left jaw -->
<path d="M2.2,512.5L9.5,545L11.6,548L16,548.6L17.2,541"/>
<path d="M5,511.4L8.4,513.6L13.4,525.3L10.6,527.6L11.2,533L16.8,539.3H20.7L22.4,535.4L18.5,528L13.4,525.3"/>
<path d="M11.2,514.2L13.4,523M17.3,539.8V545"/>
<!-- lower boss -->
<path d="M18.4,549.9L20,558.7L25.6,565L32,564.3L34.3,561L32,553L28.8,549.9L23,548.6Z"/>
<ellipse cx="25.6" cy="557" rx="3.2" ry="4.4" transform="rotate(-25 25.6 557)"/>
<path d="M32,564.3L42,561.5L54,556.7L56.4,551.1M46,543.1L50,557.5M36.4,546.3L42,561.5"/>
<!-- bolts on ring -->
<ellipse cx="39" cy="540.4" rx="5.6" ry="6.2"/>
<path d="M36,535.4Q33.6,540 36.6,545.6"/>
<ellipse cx="47.6" cy="527.6" rx="4.6" ry="5.6" transform="rotate(-30 47.6 527.6)"/>
<path d="M47,524L50.6,528.6L46.6,531.6ZM51.6,524.4Q53.6,527.6 52.4,531.4"/>
<ellipse cx="67" cy="515.4" rx="4.4" ry="5.6" transform="rotate(-20 67 515.4)"/>
<path d="M70.4,510.6Q73.6,513 73.4,517.4Q72.8,520.6 70.4,521.4M70.4,510.8V520"/>
<path d="M66.6,535.4L71.4,536.4L68.6,541.4ZM72.6,534Q74,537.6 72.4,541"/>
<!-- flange lower-left arcs near pump -->
<path d="M87.3,445L124.8,468.6V485"/>
</g>

<g id="valves">
<g transform="translate(211.6,301.9)"><path class="w" style="stroke:none" d="M-5,0V5L-9.6,9V28Q0,36 9.4,28V9L5,5V0Q0,-4 -5,0Z"/><ellipse cx="0" cy="0" rx="5" ry="2.7"/><ellipse cx="0" cy="0.1" rx="2" ry="1.1"/><path d="M-5,0V8M5,0V8"/><path d="M-5,2.6Q0,6.4 5,2.6M-5,5Q0,8.8 5,5M-5,7.6Q0,11.4 5,7.6"/><path d="M-5,5.2Q-9.6,6.6 -9.6,9.6Q-9.6,11.4 -6.5,12.6M5,5.2Q9.4,6.6 9.4,9.6Q9.4,11.2 7,12.4"/><path d="M-9.6,9.6Q-5,14.6 0,14.4Q6,14.2 9.4,9.6"/><path d="M-9.6,9.6V19.6M9.4,9.6V19.6M-5.2,13.2V22.4M4,13.6V22.6M-9.6,19.6Q-5,24 0,23.6Q6,23.4 9.4,19.6"/><path d="M-9.4,20V28.4Q-5,33 0,32.6Q5,32.4 8,28.6V21"/></g>
<g transform="translate(194.7,311.7)"><path class="w" style="stroke:none" d="M-5,0V5L-9.6,9V28Q0,36 9.4,28V9L5,5V0Q0,-4 -5,0Z"/><ellipse cx="0" cy="0" rx="5" ry="2.7"/><ellipse cx="0" cy="0.1" rx="2" ry="1.1"/><path d="M-5,0V8M5,0V8"/><path d="M-5,2.6Q0,6.4 5,2.6M-5,5Q0,8.8 5,5M-5,7.6Q0,11.4 5,7.6"/><path d="M-5,5.2Q-9.6,6.6 -9.6,9.6Q-9.6,11.4 -6.5,12.6M5,5.2Q9.4,6.6 9.4,9.6Q9.4,11.2 7,12.4"/><path d="M-9.6,9.6Q-5,14.6 0,14.4Q6,14.2 9.4,9.6"/><path d="M-9.6,9.6V19.6M9.4,9.6V19.6M-5.2,13.2V22.4M4,13.6V22.6M-9.6,19.6Q-5,24 0,23.6Q6,23.4 9.4,19.6"/><path d="M-9.4,20V28.4Q-5,33 0,32.6Q5,32.4 8,28.6V21"/></g>
<g transform="translate(177.8,321.4)"><path class="w" style="stroke:none" d="M-5,0V5L-9.6,9V28Q0,36 9.4,28V9L5,5V0Q0,-4 -5,0Z"/><ellipse cx="0" cy="0" rx="5" ry="2.7"/><ellipse cx="0" cy="0.1" rx="2" ry="1.1"/><path d="M-5,0V8M5,0V8"/><path d="M-5,2.6Q0,6.4 5,2.6M-5,5Q0,8.8 5,5M-5,7.6Q0,11.4 5,7.6"/><path d="M-5,5.2Q-9.6,6.6 -9.6,9.6Q-9.6,11.4 -6.5,12.6M5,5.2Q9.4,6.6 9.4,9.6Q9.4,11.2 7,12.4"/><path d="M-9.6,9.6Q-5,14.6 0,14.4Q6,14.2 9.4,9.6"/><path d="M-9.6,9.6V19.6M9.4,9.6V19.6M-5.2,13.2V22.4M4,13.6V22.6M-9.6,19.6Q-5,24 0,23.6Q6,23.4 9.4,19.6"/><path d="M-9.4,20V28.4Q-5,33 0,32.6Q5,32.4 8,28.6V21"/></g>
<g transform="translate(160.9,331.2)"><path class="w" style="stroke:none" d="M-5,0V5L-9.6,9V28Q0,36 9.4,28V9L5,5V0Q0,-4 -5,0Z"/><ellipse cx="0" cy="0" rx="5" ry="2.7"/><ellipse cx="0" cy="0.1" rx="2" ry="1.1"/><path d="M-5,0V8M5,0V8"/><path d="M-5,2.6Q0,6.4 5,2.6M-5,5Q0,8.8 5,5M-5,7.6Q0,11.4 5,7.6"/><path d="M-5,5.2Q-9.6,6.6 -9.6,9.6Q-9.6,11.4 -6.5,12.6M5,5.2Q9.4,6.6 9.4,9.6Q9.4,11.2 7,12.4"/><path d="M-9.6,9.6Q-5,14.6 0,14.4Q6,14.2 9.4,9.6"/><path d="M-9.6,9.6V19.6M9.4,9.6V19.6M-5.2,13.2V22.4M4,13.6V22.6M-9.6,19.6Q-5,24 0,23.6Q6,23.4 9.4,19.6"/><path d="M-9.4,20V28.4Q-5,33 0,32.6Q5,32.4 8,28.6V21"/></g>
<g transform="translate(144.0,340.9)"><path class="w" style="stroke:none" d="M-5,0V5L-9.6,9V28Q0,36 9.4,28V9L5,5V0Q0,-4 -5,0Z"/><ellipse cx="0" cy="0" rx="5" ry="2.7"/><ellipse cx="0" cy="0.1" rx="2" ry="1.1"/><path d="M-5,0V8M5,0V8"/><path d="M-5,2.6Q0,6.4 5,2.6M-5,5Q0,8.8 5,5M-5,7.6Q0,11.4 5,7.6"/><path d="M-5,5.2Q-9.6,6.6 -9.6,9.6Q-9.6,11.4 -6.5,12.6M5,5.2Q9.4,6.6 9.4,9.6Q9.4,11.2 7,12.4"/><path d="M-9.6,9.6Q-5,14.6 0,14.4Q6,14.2 9.4,9.6"/><path d="M-9.6,9.6V19.6M9.4,9.6V19.6M-5.2,13.2V22.4M4,13.6V22.6M-9.6,19.6Q-5,24 0,23.6Q6,23.4 9.4,19.6"/><path d="M-9.4,20V28.4Q-5,33 0,32.6Q5,32.4 8,28.6V21"/></g>
<g transform="translate(127.1,350.7)"><path class="w" style="stroke:none" d="M-5,0V5L-9.6,9V28Q0,36 9.4,28V9L5,5V0Q0,-4 -5,0Z"/><ellipse cx="0" cy="0" rx="5" ry="2.7"/><ellipse cx="0" cy="0.1" rx="2" ry="1.1"/><path d="M-5,0V8M5,0V8"/><path d="M-5,2.6Q0,6.4 5,2.6M-5,5Q0,8.8 5,5M-5,7.6Q0,11.4 5,7.6"/><path d="M-5,5.2Q-9.6,6.6 -9.6,9.6Q-9.6,11.4 -6.5,12.6M5,5.2Q9.4,6.6 9.4,9.6Q9.4,11.2 7,12.4"/><path d="M-9.6,9.6Q-5,14.6 0,14.4Q6,14.2 9.4,9.6"/><path d="M-9.6,9.6V19.6M9.4,9.6V19.6M-5.2,13.2V22.4M4,13.6V22.6M-9.6,19.6Q-5,24 0,23.6Q6,23.4 9.4,19.6"/><path d="M-9.4,20V28.4Q-5,33 0,32.6Q5,32.4 8,28.6V21"/></g>
</g>
<g id="bracket">
<!-- small plug -->
<ellipse cx="217.5" cy="599" rx="5.5" ry="3"/>
<path d="M214.6,598.2L216.6,597.2H219.4L220.6,598.4L219.4,600.4H216L214.6,598.2"/>
<path d="M212,599.4L212.4,607Q214,610.6 217.6,610.6Q221.4,610.6 222.6,607L223,599.4"/>
<!-- back-right pad -->
<path d="M163.4,601.6L175.6,593.3L185.1,599.7L192.8,608.6L194.1,615L201.1,618.9L213.9,619.5"/>
<path d="M163.4,601.6L167.3,604.8M169.2,599.7L171.1,602.3L175.6,601.6L176.8,599M174.9,605.4L179.4,603.5"/>
<path d="M173,608L179.4,613.8L181.3,620.1L187.1,627.2L193.5,630.4L203.7,627.2L213.9,620.1"/>
<!-- front-right pad -->
<path d="M203.9,626.5L214,620L228.3,626.5L219.7,631.5M203.9,626.5L213.3,632.3"/>
<ellipse cx="216.1" cy="625.8" rx="3.4" ry="2.5"/>
<path d="M228.3,626.5L227.6,640.9L213.3,647.3L213,638"/>
<!-- rails -->
<path d="M84.4,650.9L102.9,640L150,612.5L162.8,605.4L163.4,601.6"/>
<path d="M157,623.3L166.6,618.2L176.8,625.9M158.3,612.5L165.3,606.7L165.6,613.8"/>
<path d="M142,669.4L150,663.2L203.2,632.3"/>
<path d="M201,637.3L208.2,633.4L208.7,638"/>
<path d="M131.6,692.4L142,687.3L150,681.8L209.7,646.6L213.3,648"/>
<path d="M105.5,715.4L142,694.3L150,688.3L172.3,676L193.1,664.6L201.8,652.4"/>
<path d="M172.3,676L178.8,679.4L193.1,673.2V664M179.4,675.6V679"/>
<!-- left pad (back-left) -->
<path d="M68.4,656.6L78.6,649.6L81.8,649.2L84.4,651.5L91.4,656.6L96.5,664.9L97.8,670L109.9,675.8L118.2,675.1H123.3L131.6,680.9"/>
<path d="M75.4,654.7L78,657.9L81.8,656L81.2,653.6M81.2,659.8L84.4,658.6"/>
<path d="M87.6,652.8L97.8,647.7M94,659.8L104.8,654.1"/>
<path d="M68.4,656.6L68.1,670.7L72.9,676.4L75.4,682.8V706.5L76.7,720L77.2,726.4L90,733"/>
<path d="M79.3,662.4L82.4,668.1L85.6,670.7M86.9,677L94,683.4L100.3,686L104.2,683.4H111.2"/>
<!-- front-left pad -->
<path d="M114.4,680.9L118.2,677.2M118.6,680.4L118.9,683.4L122,684.7L125.3,682.8L124.6,680.6M125.3,686L131,683.4"/>
<path d="M131.6,680.9V696.2L122,702L120.8,695"/>
<path d="M126.5,677.7L142,669.4M128.5,679.6L140,674.5"/>
<path d="M111.2,703.9L113.1,699.4L117,703.3L120.8,702"/>
<path d="M92,720L111.2,705.2"/>
<!-- foot -->
<path d="M90,722L98.4,713.5L105.5,715.4L106,723L103,727L90,733Z"/>
</g>

</svg>
</body></html>
